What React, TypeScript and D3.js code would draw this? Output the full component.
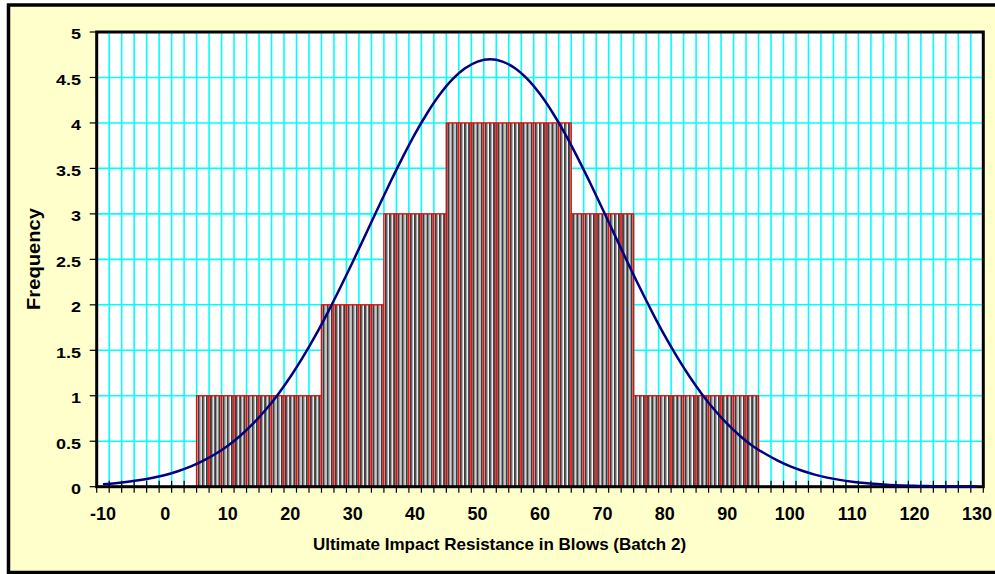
import { useEffect, useRef } from "react";
import * as d3 from "d3";

// bins of the histogram (x category axis, step 2)
const categories = [
  -10, -8, -6, -4, -2, 0, 2, 4, 6, 8, 10, 12, 14, 16, 18, 20, 22, 24, 26, 28,
  30, 32, 34, 36, 38, 40, 42, 44, 46, 48, 50, 52, 54, 56, 58, 60, 62, 64, 66,
  68, 70, 72, 74, 76, 78, 80, 82, 84, 86, 88, 90, 92, 94, 96, 98, 100, 102,
  104, 106, 108, 110, 112, 114, 116, 118, 120, 122, 124, 126, 128, 130,
];

const frequency = [
  0, 0, 0, 0, 0, 0, 0, 0, 1, 1, 1, 1, 1, 1, 1, 1, 1, 1, 2, 2, 2, 2, 2, 3, 3, 3,
  3, 3, 4, 4, 4, 4, 4, 4, 4, 4, 4, 4, 3, 3, 3, 3, 3, 1, 1, 1, 1, 1, 1, 1, 1, 1,
  1, 0, 0, 0, 0, 0, 0, 0, 0, 0, 0, 0, 0, 0, 0, 0, 0, 0, 0,
];

// fitted normal curve
const normalCurve = [
  0.028, 0.039, 0.054, 0.073, 0.098, 0.129, 0.17, 0.22, 0.283, 0.359, 0.451,
  0.561, 0.69, 0.84, 1.012, 1.206, 1.422, 1.658, 1.915, 2.187, 2.471, 2.763,
  3.056, 3.345, 3.622, 3.883, 4.115, 4.317, 4.481, 4.601, 4.675, 4.7, 4.675,
  4.601, 4.481, 4.317, 4.115, 3.883, 3.622, 3.345, 3.056, 2.763, 2.471, 2.187,
  1.915, 1.658, 1.422, 1.206, 1.012, 0.84, 0.69, 0.561, 0.451, 0.365, 0.29,
  0.226, 0.175, 0.133, 0.1, 0.075, 0.055, 0.04, 0.029, 0.02, 0.014, 0.01,
  0.007, 0.005, 0.003, 0.002, 0.001,
];

const yTicks = [0, 0.5, 1, 1.5, 2, 2.5, 3, 3.5, 4, 4.5, 5];

const FONT = "'Liberation Sans', Arial, sans-serif";

const Histogram = () => {
  const svgRef = useRef<SVGSVGElement | null>(null);

  useEffect(() => {
    const svg = d3.select(svgRef.current);
    svg.selectAll("*").remove();

    const left = 96.7;
    const right = 983.3;
    const top = 32;
    const bottom = 486.7;

    const xScale = d3
      .scaleBand<number>()
      .domain(categories)
      .range([left, right])
      .padding(0);
    const yScale = d3.scaleLinear().domain([0, 5]).range([bottom, top]);
    const bw = xScale.bandwidth();

    // stripe pattern for the bars, three stripes per bar
    const pw = bw / 3;
    const defs = svg.append("defs");
    const pat = defs
      .append("pattern")
      .attr("id", "stripes")
      .attr("patternUnits", "userSpaceOnUse")
      .attr("x", left + 1)
      .attr("width", pw)
      .attr("height", 4);
    pat.append("rect").attr("width", pw).attr("height", 4).attr("fill", "#ffffff");
    pat.append("rect").attr("width", 2.1).attr("height", 4).attr("fill", "#3c3c3c");
    pat.append("rect").attr("x", 2.1).attr("width", 0.9).attr("height", 4).attr("fill", "#8c8c8c");

    // outer chart area
    svg
      .append("rect")
      .attr("x", 8.5)
      .attr("y", 5)
      .attr("width", 1000)
      .attr("height", 567.5)
      .attr("fill", "#FFFFCC")
      .attr("stroke", "#000")
      .attr("stroke-width", 3.5);

    // plot area
    svg
      .append("rect")
      .attr("x", left)
      .attr("y", top)
      .attr("width", right - left)
      .attr("height", bottom - top)
      .attr("fill", "#fff");

    // grid
    const boundaries = categories.map((c) => xScale(c) as number).concat([right]);
    svg
      .append("g")
      .selectAll("line")
      .data(boundaries.slice(1, -1))
      .join("line")
      .attr("x1", (d) => d)
      .attr("x2", (d) => d)
      .attr("y1", top)
      .attr("y2", bottom)
      .attr("stroke", "#00FFFF")
      .attr("stroke-width", 1.6);
    svg
      .append("g")
      .selectAll("line")
      .data(yTicks.slice(1, -1))
      .join("line")
      .attr("x1", left)
      .attr("x2", right)
      .attr("y1", (d) => yScale(d))
      .attr("y2", (d) => yScale(d))
      .attr("stroke", "#00FFFF")
      .attr("stroke-width", 1.6);

    // x ticks (crossing the axis)
    svg
      .append("g")
      .selectAll("line")
      .data(boundaries)
      .join("line")
      .attr("x1", (d) => d)
      .attr("x2", (d) => d)
      .attr("y1", bottom - 6)
      .attr("y2", bottom + 6)
      .attr("stroke", "#000")
      .attr("stroke-width", 1.2);

    // bars
    const bars = categories
      .map((c, i) => ({ c, v: frequency[i] }))
      .filter((d) => d.v > 0);
    svg
      .append("g")
      .selectAll("rect")
      .data(bars)
      .join("rect")
      .attr("x", (d) => xScale(d.c) as number)
      .attr("y", (d) => yScale(d.v))
      .attr("width", bw)
      .attr("height", (d) => bottom - yScale(d.v))
      .attr("fill", "url(#stripes)")
      .attr("stroke", "#ff0000")
      .attr("stroke-width", 1.3);

    // y ticks
    svg
      .append("g")
      .selectAll("line")
      .data(yTicks)
      .join("line")
      .attr("x1", left - 7)
      .attr("x2", left)
      .attr("y1", (d) => yScale(d))
      .attr("y2", (d) => yScale(d))
      .attr("stroke", "#000")
      .attr("stroke-width", 1.2);

    // plot frame
    svg
      .append("rect")
      .attr("x", left)
      .attr("y", top)
      .attr("width", right - left)
      .attr("height", bottom - top)
      .attr("fill", "none")
      .attr("stroke", "#000")
      .attr("stroke-width", 3);

    // normal curve
    const line = d3
      .line<number>()
      .x((d, i) => (xScale(categories[i]) as number) + bw / 2)
      .y((d) => yScale(d))
      .curve(d3.curveCatmullRom);
    svg
      .append("path")
      .datum(normalCurve)
      .attr("d", line)
      .attr("fill", "none")
      .attr("stroke", "#000080")
      .attr("stroke-width", 2.5);

    // y labels
    svg
      .append("g")
      .selectAll("text")
      .data(yTicks)
      .join("text")
      .attr("transform", (d) => `translate(81, ${yScale(d) + 7.3}) scale(1.2, 1)`)
      .attr("text-anchor", "end")
      .style("font", `bold 15px ${FONT}`)
      .text((d) => String(d));

    // x labels
    svg
      .append("g")
      .selectAll("text")
      .data(categories.filter((c, i) => i % 5 === 0))
      .join("text")
      .attr("x", (d) => (xScale(d) as number) + bw / 2)
      .attr("y", 520)
      .attr("text-anchor", "middle")
      .style("font", `bold 18px ${FONT}`)
      .text((d) => String(d));

    // axis titles
    svg
      .append("text")
      .attr("x", 499.5)
      .attr("y", 550)
      .attr("text-anchor", "middle")
      .style("font", `bold 17px ${FONT}`)
      .text("Ultimate Impact Resistance in Blows (Batch 2)");

    svg
      .append("text")
      .attr("transform", "translate(40, 259) rotate(-90)")
      .attr("text-anchor", "middle")
      .attr("textLength", 102)
      .attr("lengthAdjust", "spacingAndGlyphs")
      .style("font", `bold 18px ${FONT}`)
      .text("Frequency");
  }, []);

  return (
    <svg
      ref={svgRef}
      width={995}
      height={574}
      style={{ position: "absolute", left: 0, top: 0 }}
    ></svg>
  );
};

export default function App() {
  return <Histogram />;
}
